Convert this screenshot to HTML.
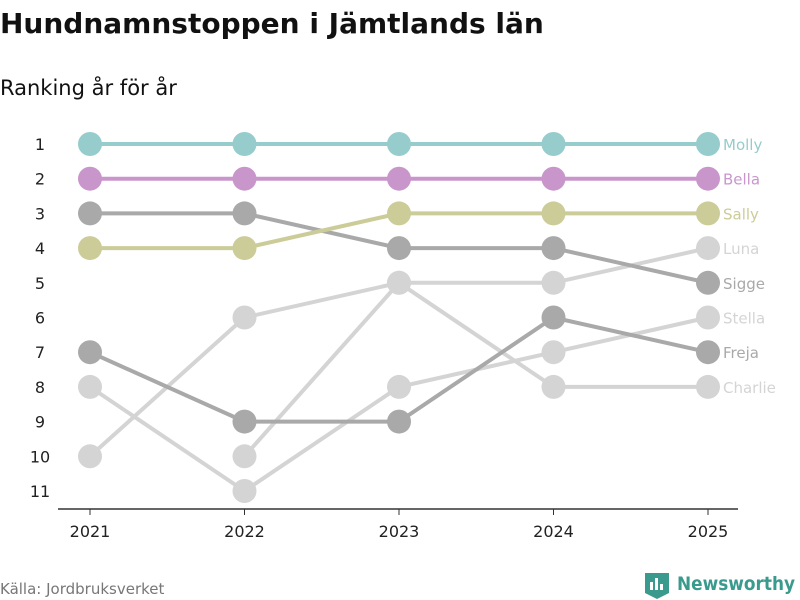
<!DOCTYPE html>
<html><head><meta charset="utf-8"><style>
body{margin:0;background:#fff;font-family:"DejaVu Sans","Liberation Sans",sans-serif;}
#wrap{position:relative;width:800px;height:600px;overflow:hidden}
</style></head><body>
<div id="wrap">
<svg id="chart" width="800" height="600">
<text x="0" y="33" font-size="28" font-weight="bold" fill="#111">Hundnamnstoppen i Jämtlands län</text>
<text x="0" y="95" font-size="21" fill="#111">Ranking år för år</text>
<text x="0" y="594" font-size="15" fill="#777">Källa: Jordbruksverket</text>
<g>
<path d="M645 573h24v20l-12 6-12-6z" fill="#3a9a8e"/>
<rect x="650" y="582" width="3" height="8" fill="#fff"/><rect x="655" y="578" width="3" height="12" fill="#fff"/><rect x="660" y="584" width="3" height="6" fill="#fff"/>
<text x="677" y="590" font-size="19" font-weight="bold" fill="#3a9a8e" textLength="118" lengthAdjust="spacingAndGlyphs">Newsworthy</text>
</g>
<line x1="58" y1="509" x2="738" y2="509" stroke="#333" stroke-width="1.5"/>
<g id="plot"></g>
</svg>
</div>
<script>
const years=[2021,2022,2023,2024,2025];
const rankTicks=[1,2,3,4,5,6,7,8,9,10,11];
const molly=[1,1,1,1,1];
const bella=[2,2,2,2,2];
const sally=[4,4,3,3,3];
const sigge=[3,3,4,4,5];
const freja=[7,9,9,6,7];
const luna=[10,6,5,5,4];
const stella=[8,11,8,7,6];
const charlie=[null,10,5,8,8];
const series=[luna,stella,charlie,sigge,freja,sally,bella,molly];
const seriesNames=["Luna","Stella","Charlie","Sigge","Freja","Sally","Bella","Molly"];
const colors=["#d4d4d4","#d4d4d4","#d4d4d4","#a9a9a9","#a9a9a9","#cccc99","#c996cc","#96cccc"];
const x=i=>90+i*154.5;
const y=r=>144+(r-1)*34.7;
const NS="http://www.w3.org/2000/svg";
const g=document.getElementById('plot');
function mk(t,a){const e=document.createElementNS(NS,t);for(const k in a)e.setAttribute(k,a[k]);g.appendChild(e);return e;}
rankTicks.forEach(r=>{const t=mk('text',{x:40,y:y(r)+6,'text-anchor':'middle','font-size':16,fill:'#222'});t.textContent=r;

});
years.forEach((yr,i)=>{const l=mk('line',{x1:x(i),y1:509,x2:x(i),y2:515,stroke:'#333'});


const t=mk('text',{x:x(i),y:537,'text-anchor':'middle','font-size':16,fill:'#222'});t.textContent=yr;

});
series.forEach((s,si)=>{const c=colors[si];let d='';let pen=false;
s.forEach((v,i)=>{if(v==null){pen=false;return;}d+=(pen?'L':'M')+x(i)+' '+y(v);pen=true;});
const p=mk('path',{d:d,stroke:c,'stroke-width':4,fill:'none'});


s.forEach((v,i)=>{if(v==null)return;const ci=mk('circle',{cx:x(i),cy:y(v),r:12,fill:c});

});
const last=s[s.length-1];const t=mk('text',{x:x(4)+15,y:y(last)+6,'font-size':15,fill:c});t.textContent=seriesNames[si];

});
</script>
</body></html>
